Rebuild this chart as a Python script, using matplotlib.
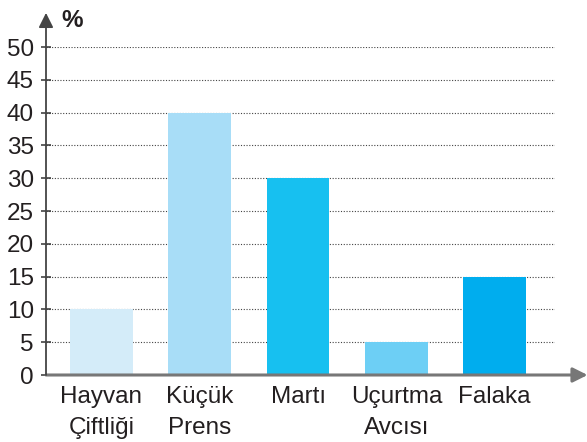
import matplotlib.pyplot as plt

# datos del grafico
libros = ['Hayvan\nÇiftliği', 'Küçük\nPrens', 'Martı', 'Uçurtma\nAvcısı', 'Falaka']
porcentajes = [10, 40, 30, 5, 15]
colores = ['#d4ecf9', '#a8ddf7', '#17c0f0', '#6dcff5', '#00adee']
marcas_y = [0, 5, 10, 15, 20, 25, 30, 35, 40, 45, 50]

plt.rcParams['font.family'] = ['Liberation Sans', 'DejaVu Sans']

fig = plt.figure(figsize=(5.87, 4.42), dpi=100)
ax = fig.add_axes([46 / 587, 67 / 442, 509 / 587, 328 / 442])

ax.set_axisbelow(True)
ax.grid(axis='y', linestyle=(0, (1, 1.5)), color='#444444', linewidth=0.8)
ax.bar(range(len(libros)), porcentajes, width=0.64, color=colores, zorder=3)

ax.set_xlim(-0.5635, 4.614)
ax.set_ylim(0, 50)
ax.set_yticks(marcas_y)
ax.set_xticks(range(len(libros)))
ax.set_xticklabels(libros, fontsize=17.5, color='#231f20', linespacing=1.55, va='top')
ax.tick_params(axis='x', length=0, pad=8)
ax.tick_params(axis='y', direction='inout', length=7.5, width=1.1, color='#333333',
               labelsize=17.5, labelcolor='#231f20', pad=5)

for s in ['top', 'right', 'bottom', 'left']:
    ax.spines[s].set_visible(False)

# ejes con flecha
ax.annotate('', xy=(1.064, 0), xytext=(0, 0), xycoords='axes fraction',
            arrowprops=dict(arrowstyle='-|>', color='#777777', lw=2.2, mutation_scale=22,
                            shrinkA=0, shrinkB=0), zorder=4)
ax.annotate('', xy=(0, 1.104), xytext=(0, 0), xycoords='axes fraction',
            arrowprops=dict(arrowstyle='-|>', color='#444444', lw=1.3, mutation_scale=22,
                            shrinkA=0, shrinkB=0), zorder=4)

ax.text(0.031, 1.08, '%', transform=ax.transAxes, fontsize=17.5, fontweight='bold',
        color='#231f20', ha='left', va='center')

plt.savefig('out.png')
